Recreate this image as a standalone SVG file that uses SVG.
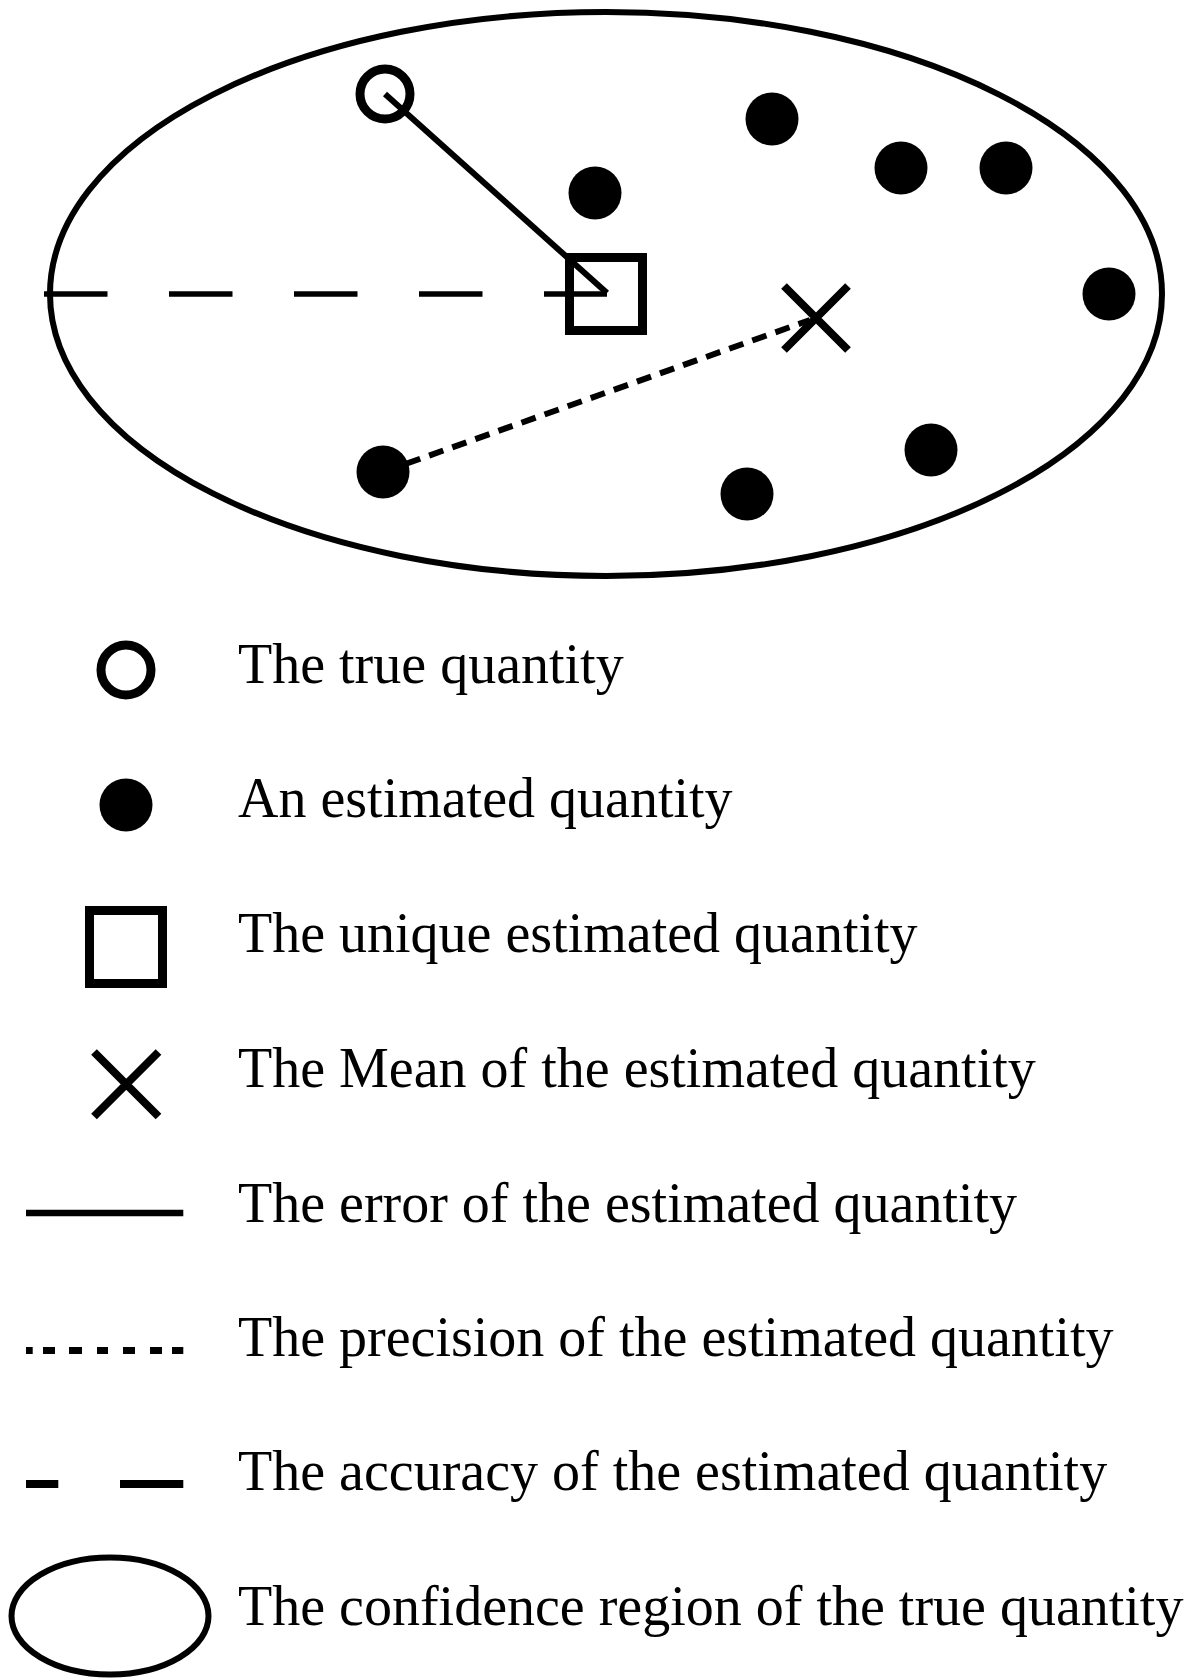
<svg xmlns="http://www.w3.org/2000/svg" width="1194" height="1678" viewBox="0 0 1194 1678">
<defs>
<style>
.ol{fill:none;stroke:#000}
.dot{fill:#000}
.open{fill:none;stroke:#000;stroke-width:9}
.sq{fill:none;stroke:#000;stroke-width:9}
.x{stroke:#000;stroke-width:8;fill:none}
.solid{stroke:#000;stroke-width:6;fill:none}
.dotted{stroke:#000;stroke-width:6;fill:none;stroke-dasharray:15 9.5}
.dashed{stroke:#000;stroke-width:5.5;fill:none;stroke-dasharray:63.5 61.5}
.lab{font-family:"Liberation Serif","Times New Roman",serif;font-size:56px;fill:#000}
</style>
</defs>
<rect width="1194" height="1678" fill="#fff"/>

<g id="region">
<ellipse class="ol" cx="606" cy="294" rx="556" ry="282" stroke-width="6"/>
</g>

<g id="connectors">
<line class="dashed" x1="44" y1="294" x2="607" y2="294"/>
<line class="solid" x1="385" y1="94" x2="607" y2="293"/>
<line class="dotted" x1="383" y1="472" x2="810" y2="320"/>
</g>

<g id="true-quantity"><circle class="open" cx="385" cy="94" r="25"/></g>
<g id="unique-estimate"><rect class="sq" x="569.5" y="257.5" width="73" height="73"/></g>
<g id="mean"><path class="x" d="M784 286 L848 350 M848 286 L784 350"/></g>
<g id="estimates">
<circle class="dot" cx="595" cy="193" r="26.5"/>
<circle class="dot" cx="772" cy="119" r="26.5"/>
<circle class="dot" cx="901" cy="168" r="26.5"/>
<circle class="dot" cx="1006" cy="168" r="26.5"/>
<circle class="dot" cx="1109" cy="294" r="26.5"/>
<circle class="dot" cx="931" cy="450" r="26.5"/>
<circle class="dot" cx="747" cy="494" r="26.5"/>
<circle class="dot" cx="383" cy="472" r="26.5"/>
</g>

<g id="legend">
<g id="legend-true"><circle class="open" cx="126" cy="670" r="25"/><text class="lab" x="238" y="683">The true quantity</text></g>
<g id="legend-estimate"><circle class="dot" cx="126" cy="805" r="26.5"/><text class="lab" x="238" y="817">An estimated quantity</text></g>
<g id="legend-unique"><rect class="sq" x="89.5" y="910.5" width="73" height="73"/><text class="lab" x="238" y="952">The unique estimated quantity</text></g>
<g id="legend-mean"><path class="x" d="M94 1052 L158.5 1116.5 M158.5 1052 L94 1116.5"/><text class="lab" x="238" y="1087">The Mean of the estimated quantity</text></g>
<g id="legend-error"><line x1="26" y1="1213" x2="183.3" y2="1213" stroke="#000" stroke-width="6.5"/><text class="lab" x="238" y="1222">The error of the estimated quantity</text></g>
<g id="legend-precision"><path d="M26 1350.5 H32.7 M43 1350.5 H55 M69 1350.5 H82 M97 1350.5 H108 M123 1350.5 H135 M150 1350.5 H162 M172 1350.5 H183.3" stroke="#000" stroke-width="7" fill="none"/><text class="lab" x="238" y="1356">The precision of the estimated quantity</text></g>
<g id="legend-accuracy"><path d="M26 1484 H58.3 M120 1484 H183.3" stroke="#000" stroke-width="8" fill="none"/><text class="lab" x="238" y="1490">The accuracy of the estimated quantity</text></g>
<g id="legend-confidence"><ellipse class="ol" cx="110" cy="1616" rx="98.5" ry="58.5" stroke-width="6"/><text class="lab" x="238" y="1625">The confidence region of the true quantity</text></g>
</g>
</svg>
